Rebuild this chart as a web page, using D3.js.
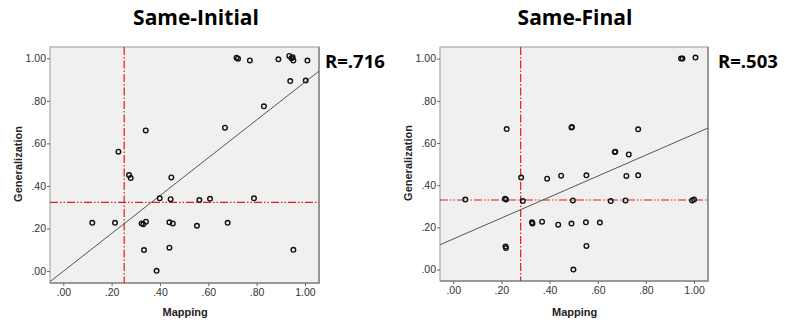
<!DOCTYPE html>
<html>
<head>
<meta charset="utf-8">
<script src="https://cdn.jsdelivr.net/npm/d3@7"></script>
<style>
  body { margin: 0; background: #fff; }
  svg { display: block; }
</style>
</head>
<body>
<script>
// scatter data (Mapping, Generalization)
var initialMapping = [0.228, 0.341, 0.669, 0.830, 0.717, 0.723, 0.772, 0.890, 0.935, 0.944, 0.949, 0.952, 0.939, 1.010, 1.003,
  0.272, 0.279, 0.447, 0.399, 0.444, 0.563, 0.607, 0.789, 0.120, 0.214, 0.324, 0.331, 0.342, 0.439, 0.453, 0.553, 0.680,
  0.334, 0.439, 0.952, 0.386];
var initialGeneral = [0.561, 0.661, 0.674, 0.774, 1.003, 0.998, 0.990, 0.995, 1.011, 1.000, 1.005, 0.989, 0.893, 0.989, 0.895,
  0.451, 0.437, 0.440, 0.342, 0.338, 0.334, 0.340, 0.342, 0.227, 0.227, 0.224, 0.220, 0.232, 0.229, 0.224, 0.213, 0.227,
  0.099, 0.110, 0.100, 0.001];

var finalMapping = [0.222, 0.491, 0.493, 0.768, 0.671, 0.673, 0.729, 0.946, 0.952, 1.006,
  0.282, 0.390, 0.448, 0.553, 0.719, 0.768, 0.050, 0.215, 0.219, 0.289, 0.497, 0.654, 0.715, 0.992, 1.000,
  0.327, 0.329, 0.369, 0.436, 0.491, 0.551, 0.609, 0.217, 0.219, 0.553, 0.499];
var finalGeneral = [0.666, 0.673, 0.676, 0.665, 0.557, 0.559, 0.546, 1.000, 1.000, 1.005,
  0.436, 0.431, 0.445, 0.447, 0.444, 0.447, 0.332, 0.336, 0.332, 0.325, 0.328, 0.325, 0.328, 0.328, 0.332,
  0.224, 0.218, 0.227, 0.213, 0.218, 0.224, 0.223, 0.110, 0.102, 0.112, 0.000];

var titles = ["Same-Initial", "Same-Final"];
var rLabels = ["R=.716", "R=.503"];
var tickValues = [0, 0.2, 0.4, 0.6, 0.8, 1.0];
var tickLabels = [".00", ".20", ".40", ".60", ".80", "1.00"];
// red reference lines (mean of each variable) and fitted lines
var refX = [0.252, 0.280];
var refY = [0.323, 0.330];
var fitSlope = [0.889, 0.497];
var fitIntercept = [-0.001, 0.145];

var svg = d3.select("body").append("svg")
  .attr("width", 785)
  .attr("height", 326);

var panels = [
  { mx: initialMapping, gy: initialGeneral, left: 50, right: 319, top: 47, bottom: 283,
    yDom: [-0.056, 1.053], titleX: 196, rX: 325, yLabX: 22 },
  { mx: finalMapping, gy: finalGeneral, left: 440, right: 708, top: 47, bottom: 281,
    yDom: [-0.054, 1.055], titleX: 575, rX: 718, yLabX: 412 }
];

panels.forEach(function (p, i) {
  var x = d3.scaleLinear().domain([-0.055, 1.058]).range([p.left, p.right]);
  var y = d3.scaleLinear().domain(p.yDom).range([p.bottom, p.top]);
  var g = svg.append("g");

  g.append("rect")
    .attr("x", p.left).attr("y", p.top)
    .attr("width", p.right - p.left).attr("height", p.bottom - p.top)
    .attr("fill", "#f0f0f0")
    .attr("stroke", "#a8a8a8")
    .attr("stroke-width", 1.2);
  // darker right/bottom edges
  g.append("path")
    .attr("d", "M" + p.right + "," + p.top + "V" + p.bottom + "H" + p.left)
    .attr("fill", "none")
    .attr("stroke", "#8a8a8a")
    .attr("stroke-width", 1.6);

  var xAxis = d3.axisBottom(x).tickValues(tickValues)
    .tickFormat(function (d, k) { return tickLabels[k]; })
    .tickSizeOuter(0).tickSize(3).tickPadding(3);
  var yAxis = d3.axisLeft(y).tickValues(tickValues)
    .tickFormat(function (d, k) { return tickLabels[k]; })
    .tickSizeOuter(0).tickSize(3).tickPadding(1);

  var gx = g.append("g").attr("transform", "translate(0," + p.bottom + ")").call(xAxis);
  var gy = g.append("g").attr("transform", "translate(" + p.left + ",0)").call(yAxis);
  [gx, gy].forEach(function (a) {
    a.select(".domain").remove();
    a.selectAll("line").attr("stroke", "#666");
    a.selectAll("text")
      .attr("font-family", "Arial, 'Liberation Sans', sans-serif")
      .attr("font-size", "10.5px")
      .attr("fill", "#333");
  });

  // reference lines
  g.append("line")
    .attr("x1", x(refX[i])).attr("x2", x(refX[i]))
    .attr("y1", p.top).attr("y2", p.bottom)
    .attr("stroke", "#e41a1a").attr("stroke-width", 1.2)
    .attr("stroke-dasharray", "8,2,1.5,2");
  g.append("line")
    .attr("x1", p.left).attr("x2", p.right)
    .attr("y1", y(refY[i])).attr("y2", y(refY[i]))
    .attr("stroke", "#e41a1a").attr("stroke-width", 1.2)
    .attr("stroke-dasharray", "8,2,1.5,2,1.5,2");

  // fit line across the box
  var x0 = x.domain()[0], x1 = x.domain()[1];
  g.append("line")
    .attr("x1", x(x0)).attr("y1", y(fitSlope[i] * x0 + fitIntercept[i]))
    .attr("x2", x(x1)).attr("y2", y(fitSlope[i] * x1 + fitIntercept[i]))
    .attr("stroke", "#555").attr("stroke-width", 1);

  g.selectAll("circle.pt")
    .data(d3.range(p.mx.length))
    .enter()
    .append("circle")
      .attr("class", "pt")
      .attr("cx", function (k) { return x(p.mx[k]); })
      .attr("cy", function (k) { return y(p.gy[k]); })
      .attr("r", 2.3)
      .attr("fill", "none")
      .attr("stroke", "#111")
      .attr("stroke-width", 1.4);

  g.append("text")
    .attr("x", p.titleX).attr("y", 25)
    .attr("text-anchor", "middle")
    .attr("font-family", "'Open Sans', sans-serif")
    .attr("font-weight", "bold")
    .attr("font-size", "21px")
    .text(titles[i]);

  g.append("text")
    .attr("x", p.rX).attr("y", 68)
    .attr("font-family", "'Open Sans', sans-serif")
    .attr("font-weight", "bold")
    .attr("font-size", "18.5px")
    .text(rLabels[i]);

  g.append("text")
    .attr("x", (x(0) + x(1)) / 2 + 1).attr("y", 316)
    .attr("text-anchor", "middle")
    .attr("font-family", "Arial, 'Liberation Sans', sans-serif")
    .attr("font-weight", "bold")
    .attr("font-size", "11px")
    .attr("fill", "#222")
    .text("Mapping");

  g.append("text")
    .attr("transform", "translate(" + p.yLabX + "," + ((p.top + p.bottom) / 2 - 1) + ") rotate(-90)")
    .attr("text-anchor", "middle")
    .attr("font-family", "Arial, 'Liberation Sans', sans-serif")
    .attr("font-weight", "bold")
    .attr("font-size", "11px")
    .attr("fill", "#222")
    .text("Generalization");
});
</script>
</body>
</html>
